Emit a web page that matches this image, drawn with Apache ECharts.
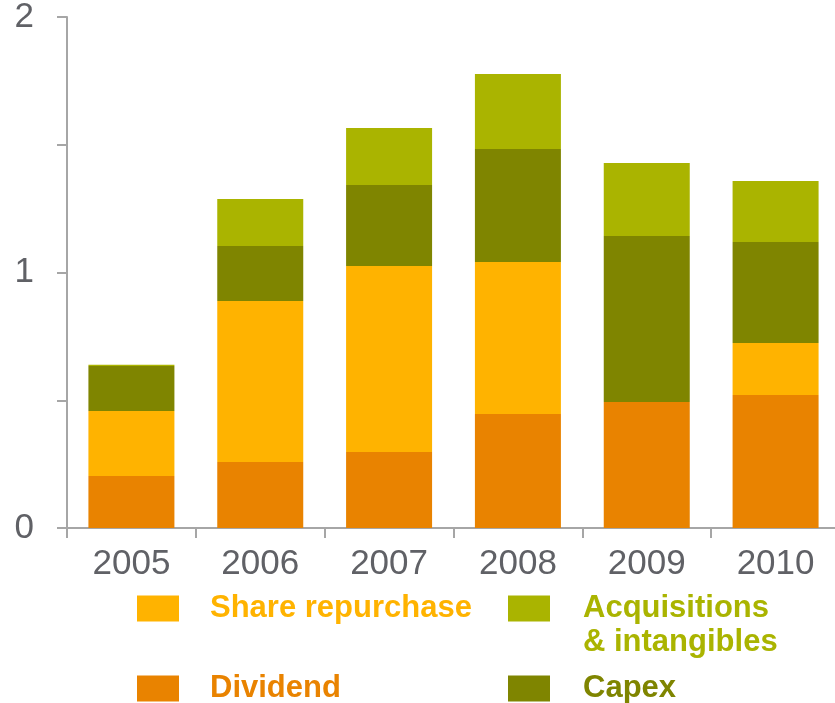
<!DOCTYPE html>
<html>
<head>
<meta charset="utf-8">
<script src="https://cdn.jsdelivr.net/npm/echarts@6/dist/echarts.min.js"></script>
<style>
html,body{margin:0;padding:0;background:#fff;}
#chart{width:835px;height:703px;}
</style>
</head>
<body>
<div id="chart"></div>
<script>
var categories = ['2005', '2006', '2007', '2008', '2009', '2010'];
var dividend = [0.204, 0.258, 0.297, 0.446, 0.493, 0.521];
var shareRepurchase = [0.254, 0.630, 0.728, 0.595, 0, 0.203];
var capex = [0.176, 0.216, 0.317, 0.442, 0.650, 0.395];
var acquisitions = [0.005, 0.184, 0.224, 0.294, 0.286, 0.239];
var yTicks = [0, 0.5, 1, 1.5, 2];

var colors = {
  'Dividend': '#E98300',
  'Share repurchase': '#FFB300',
  'Capex': '#7F8500',
  'Acquisitions': '#AAB400'
};
var font = '"Liberation Sans", Arial, sans-serif';

function mkLegend(name, left, top, pad) {
  return {
    data: [name],
    left: left, top: top, padding: 0,
    orient: 'horizontal',
    itemWidth: 42, itemHeight: 26,
    selectedMode: false,
    icon: 'rect',
    textStyle: {
      color: colors[name], fontSize: 31, fontWeight: 'bold', fontFamily: font,
      padding: [0, 0, 0, pad]
    }
  };
}

function mkSeries(name, data) {
  return {
    name: name, type: 'bar', stack: 'total', data: data,
    barWidth: 86,
    itemStyle: { color: colors[name] },
    emphasis: { disabled: true }
  };
}

var chart = echarts.init(document.getElementById('chart'), null, { renderer: 'canvas' });
chart.setOption({
  animation: false,
  backgroundColor: '#fff',
  grid: { left: 67, top: 17, width: 773, bottom: 175, containLabel: false, outerBoundsMode: 'none' },
  legend: [
    mkLegend('Share repurchase', 137, 593, 26),
    mkLegend('Dividend', 137, 673, 26),
    mkLegend('Acquisitions', 508, 593, 28),
    mkLegend('Capex', 508, 673, 28)
  ],
  graphic: [{
    type: 'text', left: 583, top: 627,
    style: { text: '& intangibles', fill: colors['Acquisitions'], fontSize: 31, fontWeight: 'bold', fontFamily: font }
  }],
  xAxis: {
    type: 'category', data: categories,
    axisLine: { lineStyle: { color: '#A6A6A6', width: 2 } },
    axisTick: { show: true, length: 10, interval: 0, lineStyle: { color: '#A6A6A6', width: 2 } },
    axisLabel: { color: '#606166', fontSize: 35, fontFamily: font, margin: 19, interval: 0 }
  },
  yAxis: {
    type: 'value', min: yTicks[0], max: yTicks[yTicks.length - 1], interval: 0.5,
    splitLine: { show: false },
    axisLine: { show: true, lineStyle: { color: '#A6A6A6', width: 2 } },
    axisTick: { show: true, length: 10, lineStyle: { color: '#A6A6A6', width: 2 } },
    axisLabel: {
      color: '#606166', fontSize: 35, fontFamily: font, margin: 33,
      formatter: function (v) { return v % 1 === 0 ? String(v) : ''; }
    }
  },
  series: [
    mkSeries('Dividend', dividend),
    mkSeries('Share repurchase', shareRepurchase),
    mkSeries('Capex', capex),
    mkSeries('Acquisitions', acquisitions)
  ]
});
</script>
</body>
</html>
